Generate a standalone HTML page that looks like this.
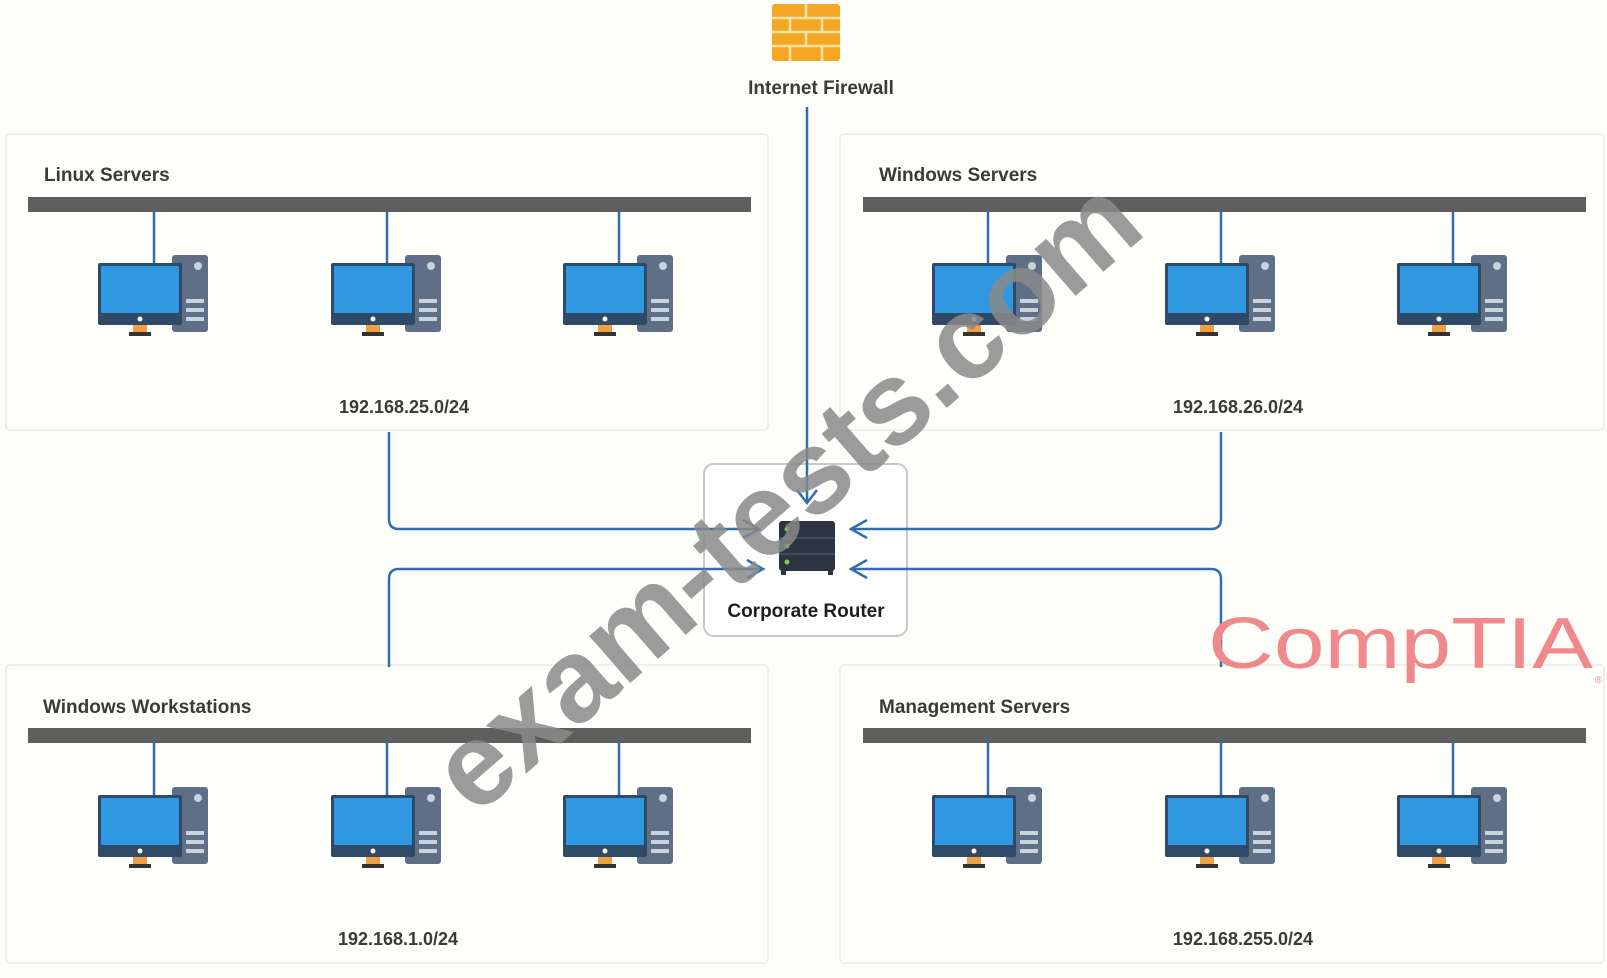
<!DOCTYPE html>
<html><head><meta charset="utf-8"><style>
html,body{margin:0;padding:0;background:#fdfdfa;}
svg{display:block;font-family:"Liberation Sans",sans-serif;}
</style></head><body>
<svg width="1607" height="978" viewBox="0 0 1607 978" xmlns="http://www.w3.org/2000/svg">
<defs>
<g id="pc">
 <rect x="18" y="255" width="36" height="77" rx="3" fill="#5f6f85"/>
 <circle cx="44" cy="266" r="4" fill="#c9d2dd"/>
 <rect x="32" y="299" width="18" height="4" fill="#c9d2dd"/>
 <rect x="32" y="308" width="18" height="4" fill="#c9d2dd"/>
 <rect x="32" y="317" width="18" height="4" fill="#c9d2dd"/>
 <rect x="-56" y="263" width="84" height="62" rx="2" fill="#2e4a66"/>
 <rect x="-53" y="266" width="78" height="47" fill="#2f98e0"/>
 <circle cx="-14" cy="319" r="2.5" fill="#fff"/>
 <rect x="-21" y="325" width="14" height="7" fill="#f0a040"/>
 <rect x="-25" y="332" width="22" height="4" fill="#333"/>
</g>
</defs>
<rect width="1607" height="978" fill="#fdfdfa"/>
<g fill="#fefefb" stroke="#ecece4" stroke-width="1.5">
<rect x="6" y="134" width="762" height="296" rx="4"/>
<rect x="840" y="134" width="764" height="296" rx="4"/>
<rect x="6" y="665" width="762" height="298" rx="4"/>
<rect x="840" y="665" width="764" height="298" rx="4"/>
</g>
<g fill="#5e5e5e">
<rect x="28" y="197" width="723" height="15"/>
<rect x="863" y="197" width="723" height="15"/>
<rect x="28" y="728" width="723" height="15"/>
<rect x="863" y="728" width="723" height="15"/>
</g>
<g stroke="#2f6fb0" stroke-width="2.5">
<line x1="154" y1="212" x2="154" y2="265"/><line x1="387" y1="212" x2="387" y2="265"/><line x1="619" y1="212" x2="619" y2="265"/>
<line x1="988" y1="212" x2="988" y2="265"/><line x1="1221" y1="212" x2="1221" y2="265"/><line x1="1453" y1="212" x2="1453" y2="265"/>
<line x1="154" y1="743" x2="154" y2="796"/><line x1="387" y1="743" x2="387" y2="796"/><line x1="619" y1="743" x2="619" y2="796"/>
<line x1="988" y1="743" x2="988" y2="796"/><line x1="1221" y1="743" x2="1221" y2="796"/><line x1="1453" y1="743" x2="1453" y2="796"/>
</g>
<use href="#pc" x="154"/><use href="#pc" x="387"/><use href="#pc" x="619"/>
<use href="#pc" x="988"/><use href="#pc" x="1221"/><use href="#pc" x="1453"/>
<use href="#pc" x="154" y="532"/><use href="#pc" x="387" y="532"/><use href="#pc" x="619" y="532"/>
<use href="#pc" x="988" y="532"/><use href="#pc" x="1221" y="532"/><use href="#pc" x="1453" y="532"/>
<g font-size="19" font-weight="bold" fill="#3a3a3a">
<text x="44" y="181">Linux Servers</text>
<text x="879" y="181">Windows Servers</text>
<text x="43" y="713">Windows Workstations</text>
<text x="879" y="713">Management Servers</text>
</g>
<g font-size="18" font-weight="bold" fill="#3a3a3a" text-anchor="middle">
<text x="404" y="413">192.168.25.0/24</text>
<text x="1238" y="413">192.168.26.0/24</text>
<text x="398" y="945">192.168.1.0/24</text>
<text x="1243" y="945">192.168.255.0/24</text>
</g>
<rect x="772" y="4" width="68" height="57" rx="3" fill="#f5a623"/>
<g stroke="#fde2a8" stroke-width="2.5">
<line x1="772" y1="18" x2="840" y2="18"/><line x1="772" y1="32" x2="840" y2="32"/><line x1="772" y1="46" x2="840" y2="46"/>
<line x1="806" y1="4" x2="806" y2="18"/><line x1="790" y1="18" x2="790" y2="32"/><line x1="822" y1="18" x2="822" y2="32"/>
<line x1="806" y1="32" x2="806" y2="46"/><line x1="790" y1="46" x2="790" y2="61"/><line x1="822" y1="46" x2="822" y2="61"/>
</g>
<text x="821" y="94" font-size="19" font-weight="bold" fill="#3a3a3a" text-anchor="middle">Internet Firewall</text>
<rect x="704" y="464" width="203" height="172" rx="10" fill="#fefefe" stroke="#c9c9c9" stroke-width="2"/>
<rect x="779" y="521" width="56" height="50" rx="3" fill="#2b3440"/>
<line x1="779" y1="538" x2="835" y2="538" stroke="#4a5562" stroke-width="1.5"/>
<line x1="779" y1="554" x2="835" y2="554" stroke="#4a5562" stroke-width="1.5"/>
<circle cx="787" cy="529" r="2.5" fill="#7ccf50"/><circle cx="787" cy="546" r="2.5" fill="#7ccf50"/><circle cx="787" cy="562" r="2.5" fill="#7ccf50"/>
<rect x="781" y="571" width="5" height="4" fill="#2b3440"/><rect x="828" y="571" width="5" height="4" fill="#2b3440"/>
<text x="806" y="617" font-size="19" font-weight="bold" fill="#1e1e1e" text-anchor="middle">Corporate Router</text>
<g fill="none" stroke="#2f6fb0" stroke-width="2.5">
<line x1="807" y1="107" x2="807" y2="502"/>
<polyline points="797,490 807,503 817,490"/>
<path d="M389,432 V519 Q389,529 399,529 H758"/>
<polyline points="743,520 759,529 743,538"/>
<path d="M389,667 V579 Q389,569 399,569 H762"/>
<polyline points="747,560 763,569 747,578"/>
<path d="M1221,432 V519 Q1221,529 1211,529 H852"/>
<polyline points="867,520 851,529 867,538"/>
<path d="M1221,667 V579 Q1221,569 1211,569 H852"/>
<polyline points="867,560 851,569 867,578"/>
</g>
<text x="1208" y="668" font-size="72" fill="#f08a8a" textLength="385" lengthAdjust="spacingAndGlyphs">CompTIA</text>
<text x="1595" y="683" font-size="10" fill="#f08a8a">®</text>
<text x="0" y="0" font-size="118" font-weight="bold" fill="#8a8a8a" fill-opacity="0.85" text-anchor="middle" transform="translate(812,525) rotate(-41)">exam-tests.com</text>
</svg>
</body></html>
